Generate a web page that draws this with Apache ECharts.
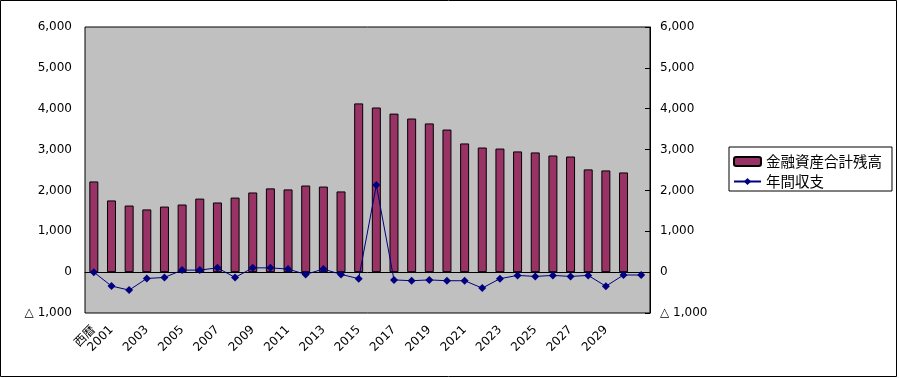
<!DOCTYPE html>
<html>
<head>
<meta charset="utf-8">
<script src="https://cdn.jsdelivr.net/npm/echarts@6/dist/echarts.min.js"></script>
<style>
  html, body { margin: 0; padding: 0; background: #fff; }
  #chart { width: 899px; height: 378px; }
</style>
</head>
<body>
<div id="chart"></div>
<script>
// categories: 西暦 heading + years
const years = ['西暦']
for (let y = 2001; y <= 2031; y++) years.push(String(y))

// 金融資産合計残高 (bars)
const assetBalance = [
  2220, 1755, 1630, 1535, 1605, 1655, 1800, 1705, 1825, 1950,
  2050, 2025, 2120, 2095, 1975, 4130, 4030, 3880, 3760, 3640,
  3490, 3150, 3050, 3025, 2955, 2930, 2855, 2830, 2515, 2490,
  2440
]

// 年間収支 (line)
const annualBalance = [
  0, -340, -440, -155, -130, 50, 50, 105, -130, 105,
  105, 75, -55, 75, -55, -160, 2130, -190, -210, -190,
  -210, -210, -390, -160, -80, -105, -80, -105, -80, -345,
  -70, -70
]

const fontFamily = '"DejaVu Sans", "Noto Sans CJK JP", sans-serif'

function fmtValue(v) {
  if (v < 0) return '△ ' + (-v).toLocaleString('en-US')
  return v.toLocaleString('en-US')
}

const chart = echarts.init(document.getElementById('chart'))

const yAxisBase = {
  type: 'value',
  min: -1000,
  max: 6000,
  interval: 1000,
  splitLine: { show: false },
  axisLabel: {
    color: '#000',
    fontSize: 12,
    fontFamily: fontFamily,
    formatter: fmtValue
  }
}

chart.setOption({
  animation: false,
  backgroundColor: '#fff',
  textStyle: { fontFamily: fontFamily },
  grid: {
    left: 85,
    right: 249,
    top: 27,
    bottom: 65,
    containLabel: false,
    outerBoundsMode: 'none',
    show: true,
    backgroundColor: '#c0c0c0',
    borderColor: '#000',
    borderWidth: 1
  },
  legend: {
    orient: 'vertical',
    left: 729,
    top: 147,
    padding: [5, 10, 0, 4],
    itemWidth: 27,
    itemHeight: 9,
    itemGap: 1,
    backgroundColor: '#fff',
    borderColor: '#000',
    borderWidth: 1,
    textStyle: {
      color: '#000',
      fontSize: 14.5,
      lineHeight: 19,
      fontFamily: '"Noto Sans CJK JP", sans-serif'
    },
    data: ['金融資産合計残高', '年間収支']
  },
  xAxis: {
    type: 'category',
    data: years,
    axisLine: { onZero: true, lineStyle: { color: '#000', width: 1 } },
    axisTick: { inside: true, length: 4, lineStyle: { color: '#000' } },
    axisLabel: {
      color: '#000',
      fontSize: 12,
      fontFamily: fontFamily,
      rotate: 45,
      margin: 15,
      hideOverlap: false,
      interval: function (index) {
        return index === 0 || (index % 2 === 1 && index < 30)
      }
    }
  },
  yAxis: [
    Object.assign({}, yAxisBase, {
      position: 'left',
      axisLine: { show: false },
      axisTick: { show: false },
      axisLabel: Object.assign({}, yAxisBase.axisLabel, { margin: 13 })
    }),
    Object.assign({}, yAxisBase, {
      position: 'right',
      axisLine: { show: true, lineStyle: { color: '#000' } },
      axisTick: { show: true, inside: true, length: 5, lineStyle: { color: '#000' } },
      axisLabel: Object.assign({}, yAxisBase.axisLabel, { margin: 10 })
    })
  ],
  series: [
    {
      name: '金融資産合計残高',
      type: 'bar',
      yAxisIndex: 0,
      barWidth: 9,
      itemStyle: {
        color: '#993366',
        borderColor: '#000',
        borderWidth: 1
      },
      data: assetBalance
    },
    {
      name: '年間収支',
      type: 'line',
      yAxisIndex: 1,
      symbol: 'diamond',
      symbolSize: 8,
      lineStyle: { color: '#000080', width: 1 },
      itemStyle: { color: '#000080' },
      data: annualBalance
    }
  ],
  graphic: [{
    type: 'rect',
    shape: { x: 0.5, y: 0.5, width: 896, height: 376 },
    style: { fill: 'none', stroke: '#000', lineWidth: 1 },
    silent: true
  }]
})
</script>
</body>
</html>
